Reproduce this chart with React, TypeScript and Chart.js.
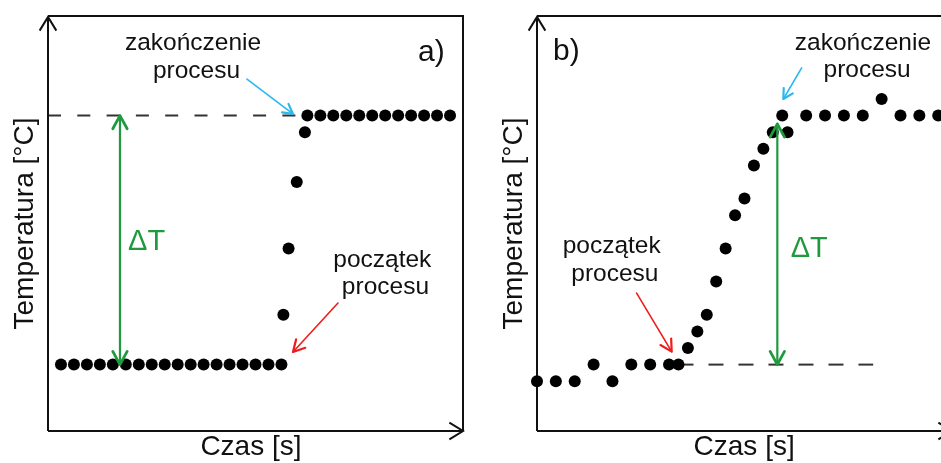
import React, { useEffect, useRef } from "react";
import { Chart, registerables } from "chart.js";

Chart.register(...registerables);

// ---------- data ----------
// Panel a) – step response
const timeA = [
  1, 2, 3, 4, 5, 6, 7, 8, 9, 10, 11, 12, 13, 14, 15, 16, 17, 18,
  18.15, 18.55, 19.18, 19.81,
  20, 21, 22, 23, 24, 25, 26, 27, 28, 29, 30, 31,
];
const tempA = [
  4, 4, 4, 4, 4, 4, 4, 4, 4, 4, 4, 4, 4, 4, 4, 4, 4, 4,
  7, 11, 15, 18,
  19, 19, 19, 19, 19, 19, 19, 19, 19, 19, 19, 19,
];

// Panel b) – gradual response with noise
const timeB = [
  0, 1, 2, 3, 4, 5, 6, 7, 7.5, 8, 8.5, 9, 9.5, 10, 10.5, 11, 11.5, 12, 12.5, 13,
  13.28, 14.27, 15.27, 16.27, 17.27, 18.27, 19.27, 20.27, 21.27,
];
const tempB = [
  3, 3, 3, 4, 3, 4, 4, 4, 4, 5, 6, 7, 9, 11, 13, 14, 16, 17, 18, 19,
  18, 19, 19, 19, 19, 20, 19, 19, 19,
];

const axisTitleX = "Czas [s]";
const axisTitleY = "Temperatura [°C]";
const labelEnd = ["zakończenie", "procesu"];
const labelStart = ["początek", "procesu"];
const labelDelta = "ΔT";

// ---------- styling / layout ----------
const FONT = '"Liberation Sans", Arial, Helvetica, sans-serif';
const GREEN = "#1f9a3e";
const CYAN = "#2bb8ee";
const RED = "#ee1c1c";

type Arrow = { x1: number; y1: number; x2: number; y2: number; color: string; width: number; head: number; spread: number; both?: boolean };
type Txt = { text: string; x: number; y: number; size: number; color: string; align: CanvasTextAlign };

type Panel = {
  name: string;
  xs: number[];
  ys: number[];
  xMax: number;
  yMax: number;
  canvasWidth: number;
  offsetLeft: number;
  padding: { left: number; right: number; top: number; bottom: number };
  dashed: { x1: number; x2: number; y: number; dash: number[] };
  arrows: Arrow[];
  texts: Txt[];
  xTitleAt: number;
};

const panelA: Panel = {
  name: "a",
  xs: timeA,
  ys: tempA,
  xMax: 32,
  yMax: 25,
  canvasWidth: 470,
  offsetLeft: 0,
  padding: { left: 48, right: 7, top: 16, bottom: 32 },
  dashed: { x1: 0, x2: 19.43, y: 19, dash: [13, 16.3] },
  arrows: [
    { x1: 5.55, y1: 4, x2: 5.55, y2: 19, color: GREEN, width: 2.2, head: 15, spread: 0.5, both: true },
    { x1: 15.34, y1: 21.2, x2: 18.89, y2: 19.1, color: CYAN, width: 1.6, head: 11, spread: 0.5 },
    { x1: 22.36, y1: 7.71, x2: 18.89, y2: 4.76, color: RED, width: 1.6, head: 13, spread: 0.5 },
  ],
  texts: [
    { text: labelEnd[0], x: 11.18, y: 22.95, size: 24.5, color: "#111", align: "center" },
    { text: labelEnd[1], x: 11.45, y: 21.27, size: 24.5, color: "#111", align: "center" },
    { text: labelStart[0], x: 25.78, y: 9.9, size: 24.5, color: "#111", align: "center" },
    { text: labelStart[1], x: 26.02, y: 8.25, size: 24.5, color: "#111", align: "center" },
    { text: labelDelta, x: 6.17, y: 10.9, size: 29, color: GREEN, align: "left" },
    { text: "a)", x: 28.53, y: 22.29, size: 30, color: "#111", align: "left" },
  ],
  xTitleAt: 15.65,
};

const panelB: Panel = {
  name: "b",
  xs: timeB,
  ys: tempB,
  xMax: 22,
  yMax: 25,
  canvasWidth: 500,
  offsetLeft: 470,
  padding: { left: 67, right: 18, top: 16, bottom: 32 },
  dashed: { x1: 7.5, x2: 17.82, y: 4, dash: [15, 15] },
  arrows: [
    { x1: 12.74, y1: 4, x2: 12.74, y2: 18.5, color: GREEN, width: 2.2, head: 15, spread: 0.5, both: true },
    { x1: 14.03, y1: 21.87, x2: 13.06, y2: 20.0, color: CYAN, width: 1.6, head: 11, spread: 0.5 },
    { x1: 5.28, y1: 8.31, x2: 7.14, y2: 4.78, color: RED, width: 1.6, head: 13, spread: 0.5 },
  ],
  texts: [
    { text: labelEnd[0], x: 17.28, y: 22.95, size: 24.5, color: "#111", align: "center" },
    { text: labelEnd[1], x: 17.5, y: 21.3, size: 24.5, color: "#111", align: "center" },
    { text: labelStart[0], x: 3.96, y: 10.72, size: 24.5, color: "#111", align: "center" },
    { text: labelStart[1], x: 4.13, y: 9.04, size: 24.5, color: "#111", align: "center" },
    { text: labelDelta, x: 13.45, y: 10.5, size: 29, color: GREEN, align: "left" },
    { text: "b)", x: 0.85, y: 22.35, size: 30, color: "#111", align: "left" },
  ],
  xTitleAt: 10.98,
};

function drawHead(ctx: CanvasRenderingContext2D, fx: number, fy: number, tx: number, ty: number, len: number, spread: number) {
  const ang = Math.atan2(ty - fy, tx - fx);
  ctx.beginPath();
  ctx.moveTo(tx - len * Math.cos(ang - spread), ty - len * Math.sin(ang - spread));
  ctx.lineTo(tx, ty);
  ctx.lineTo(tx - len * Math.cos(ang + spread), ty - len * Math.sin(ang + spread));
  ctx.stroke();
}

const decorPlugin = {
  id: "decor",
  beforeDatasetsDraw(chart: any, _args: any, opts: any) {
    const p: Panel = opts.panel;
    const ctx: CanvasRenderingContext2D = chart.ctx;
    const xs = chart.scales.x;
    const ys = chart.scales.y;
    ctx.save();
    ctx.strokeStyle = "#333";
    ctx.lineWidth = 2;
    ctx.setLineDash(p.dashed.dash);
    ctx.beginPath();
    ctx.moveTo(xs.getPixelForValue(p.dashed.x1), ys.getPixelForValue(p.dashed.y));
    ctx.lineTo(xs.getPixelForValue(p.dashed.x2), ys.getPixelForValue(p.dashed.y));
    ctx.stroke();
    ctx.setLineDash([]);

    // frame and axes
    const { left, right, top, bottom } = chart.chartArea;
    ctx.strokeStyle = "#111";
    ctx.lineWidth = 2;
    ctx.lineCap = "butt";
    ctx.beginPath();
    ctx.moveTo(left, bottom);
    ctx.lineTo(left, top + 1);
    ctx.moveTo(left, top);
    ctx.lineTo(right, top);
    ctx.lineTo(right, bottom);
    ctx.moveTo(left, bottom);
    ctx.lineTo(right, bottom);
    ctx.stroke();
    ctx.lineWidth = 2;
    drawHead(ctx, left, bottom, left, top + 1, 16, 0.55);
    drawHead(ctx, left, bottom, right, bottom, 16, 0.55);

    // axis titles
    ctx.fillStyle = "#111";
    ctx.font = `28px ${FONT}`;
    ctx.textAlign = "center";
    ctx.textBaseline = "alphabetic";
    ctx.fillText(axisTitleX, xs.getPixelForValue(p.xTitleAt), bottom + 24);
    ctx.save();
    ctx.translate(left - 15, (top + bottom) / 2);
    ctx.rotate(-Math.PI / 2);
    ctx.fillText(axisTitleY, 0, 0);
    ctx.restore();
    ctx.restore();
  },
  afterDatasetsDraw(chart: any, _args: any, opts: any) {
    const p: Panel = opts.panel;
    const ctx: CanvasRenderingContext2D = chart.ctx;
    const xs = chart.scales.x;
    const ys = chart.scales.y;
    ctx.save();
    ctx.lineCap = "round";
    ctx.lineJoin = "round";
    for (const a of p.arrows) {
      const x1 = xs.getPixelForValue(a.x1);
      const y1 = ys.getPixelForValue(a.y1);
      const x2 = xs.getPixelForValue(a.x2);
      const y2 = ys.getPixelForValue(a.y2);
      ctx.strokeStyle = a.color;
      ctx.lineWidth = a.width;
      ctx.beginPath();
      ctx.moveTo(x1, y1);
      ctx.lineTo(x2, y2);
      ctx.stroke();
      ctx.lineWidth = a.width + 0.6;
      drawHead(ctx, x1, y1, x2, y2, a.head, a.spread);
      if (a.both) drawHead(ctx, x2, y2, x1, y1, a.head, a.spread);
    }
    ctx.textBaseline = "alphabetic";
    for (const t of p.texts) {
      ctx.font = `${t.size}px ${FONT}`;
      ctx.fillStyle = t.color;
      ctx.textAlign = t.align;
      ctx.fillText(t.text, xs.getPixelForValue(t.x), ys.getPixelForValue(t.y));
    }
    ctx.restore();
  },
};

function PanelChart({ panel }: { panel: Panel }) {
  const ref = useRef<HTMLCanvasElement | null>(null);
  useEffect(() => {
    if (!ref.current) return;
    const chart = new Chart(ref.current, {
      type: "scatter",
      data: {
        datasets: [
          {
            label: "T(t)",
            data: panel.xs.map((x, i) => ({ x, y: panel.ys[i] })),
            backgroundColor: "#000",
            borderColor: "#000",
            pointRadius: 6,
            pointHoverRadius: 6,
            borderWidth: 0,
            clip: false as any,
          },
        ],
      },
      options: {
        animation: false,
        responsive: false,
        maintainAspectRatio: false,
        devicePixelRatio: 1,
        events: [],
        layout: { padding: panel.padding },
        scales: {
          x: { type: "linear", min: 0, max: panel.xMax, display: false },
          y: { type: "linear", min: 0, max: panel.yMax, display: false },
        },
        plugins: {
          legend: { display: false },
          tooltip: { enabled: false },
          decor: { panel },
        } as any,
      },
      plugins: [decorPlugin],
    });
    return () => chart.destroy();
  }, [panel]);
  return (
    <canvas
      ref={ref}
      width={panel.canvasWidth}
      height={463}
      style={{ position: "absolute", left: panel.offsetLeft, top: 0, width: panel.canvasWidth, height: 463 }}
    />
  );
}

export default function App() {
  return (
    <div
      style={{
        position: "fixed",
        left: 0,
        top: 0,
        width: 941,
        height: 463,
        overflow: "hidden",
        background: "#fff",
      }}
    >
      <PanelChart panel={panelA} />
      <PanelChart panel={panelB} />
    </div>
  );
}
